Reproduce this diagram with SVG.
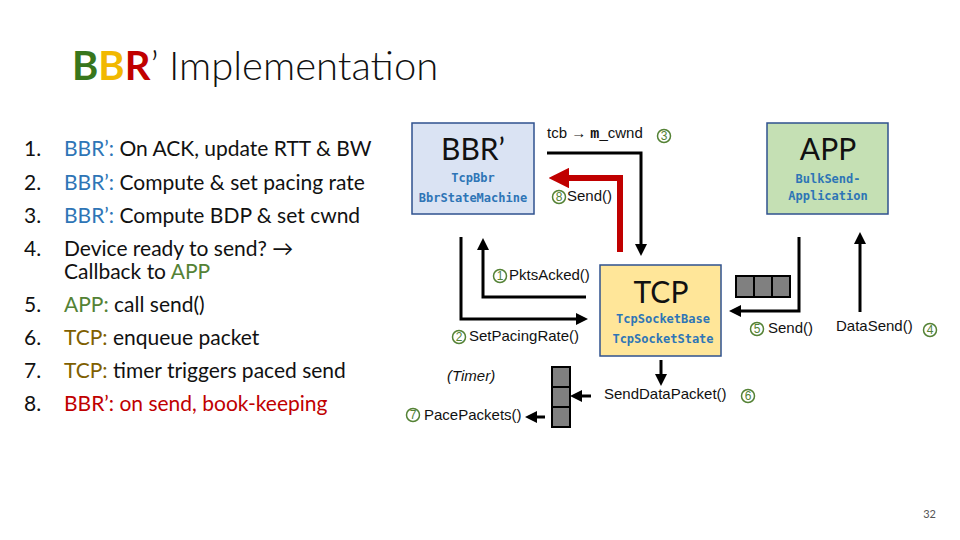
<svg xmlns="http://www.w3.org/2000/svg" width="960" height="540" viewBox="0 0 960 540">
<style>
.t{font-family:Lato,"Open Sans","Liberation Sans",sans-serif;}
.l{font-family:Lato,"Liberation Sans",sans-serif;font-size:21px;fill:#111}
.a{font-family:"Liberation Sans",Arial,sans-serif;font-size:15px;fill:#111}
.m{font-family:"DejaVu Sans Mono","Liberation Mono",monospace;font-size:12px;font-weight:bold;fill:#2e75b6}
.ln{fill:none;stroke:#000;stroke-width:3}
.n circle{fill:none;stroke:#548235;stroke-width:1.5}
.n text{font-family:"Liberation Sans",sans-serif;font-size:12px;fill:#548235;text-anchor:middle}
.q{fill:#808080;stroke:#000;stroke-width:2}
</style>
<defs>
<marker id="ah" markerWidth="4" markerHeight="4" refX="2" refY="2" orient="auto" markerUnits="strokeWidth"><path d="M0,0L4,2L0,4z" fill="#000"/></marker>
<marker id="ar" markerWidth="3.4" markerHeight="3.4" refX="1.5" refY="1.7" orient="auto" markerUnits="strokeWidth"><path d="M0,0L3.4,1.7L0,3.4z" fill="#c00000"/></marker>
</defs>
<rect width="960" height="540" fill="#fff"/>
<text class="t" x="72" y="80" font-size="40"><tspan fill="#38761d" font-weight="bold">B</tspan><tspan fill="#f1b800" font-weight="bold">B</tspan><tspan fill="#c00000" font-weight="bold">R</tspan><tspan fill="#111" font-weight="300">’ Implementation</tspan></text>
<g class="l">
<text x="24" y="156">1.</text><text x="64" y="156"><tspan fill="#2e75b6">BBR’:</tspan> On ACK, update RTT &amp; BW</text>
<text x="24" y="190">2.</text><text x="64" y="190"><tspan fill="#2e75b6">BBR’:</tspan> Compute &amp; set pacing rate</text>
<text x="24" y="223">3.</text><text x="64" y="223"><tspan fill="#2e75b6">BBR’:</tspan> Compute BDP &amp; set cwnd</text>
<text x="24" y="256">4.</text><text x="64" y="256">Device ready to send? →</text>
<text x="64" y="279">Callback to <tspan fill="#548235">APP</tspan></text>
<text x="24" y="312">5.</text><text x="64" y="312"><tspan fill="#548235">APP:</tspan> call send()</text>
<text x="24" y="345">6.</text><text x="64" y="345"><tspan fill="#7f6000">TCP:</tspan> enqueue packet</text>
<text x="24" y="378">7.</text><text x="64" y="378"><tspan fill="#7f6000">TCP:</tspan> timer triggers paced send</text>
<text x="24" y="411">8.</text><text x="64" y="411" fill="#c00000">BBR’: on send, book-keeping</text>
</g>
<g id="bbr"><rect x="412" y="123" width="122" height="91" fill="#dae3f3" stroke="#2f528f" stroke-width="1.5"/>
<text class="t" x="473" y="160" font-size="30" text-anchor="middle" fill="#111">BBR’</text>
<text class="m" x="473" y="182" text-anchor="middle">TcpBbr</text>
<text class="m" x="473" y="202" text-anchor="middle">BbrStateMachine</text></g>
<g id="app"><rect x="767" y="123" width="121" height="91" fill="#c5e0b4" stroke="#2f528f" stroke-width="1.5"/>
<text class="t" x="828" y="160" font-size="30" text-anchor="middle" fill="#111">APP</text>
<text class="m" x="828" y="183" text-anchor="middle">BulkSend-</text>
<text class="m" x="828" y="200" text-anchor="middle">Application</text></g>
<g id="tcp"><rect x="600" y="265" width="121" height="91" fill="#ffe699" stroke="#2f528f" stroke-width="1.5"/>
<text class="t" x="661" y="303" font-size="30" text-anchor="middle" fill="#111">TCP</text>
<text class="m" x="663" y="323" text-anchor="middle">TcpSocketBase</text>
<text class="m" x="663" y="343" text-anchor="middle">TcpSocketState</text></g>
<g id="queues">
<rect class="q" x="736" y="276" width="18" height="21"/><rect class="q" x="754" y="276" width="18" height="21"/><rect class="q" x="772" y="276" width="18" height="21"/>
<rect class="q" x="552" y="367" width="18" height="20"/><rect class="q" x="552" y="387" width="18" height="20"/><rect class="q" x="552" y="407" width="18" height="20"/>
</g>
<g id="connectors">
<path class="ln" d="M547,153H641V250" marker-end="url(#ah)"/>
<path d="M620,252V178H560" fill="none" stroke="#c00000" stroke-width="6" marker-end="url(#ar)"/>
<path class="ln" d="M586,297H483V244" marker-end="url(#ah)"/>
<path class="ln" d="M461,237V319H582" marker-end="url(#ah)"/>
<path class="ln" d="M799,237V311H735" marker-end="url(#ah)"/>
<path class="ln" d="M860,312V238" marker-end="url(#ah)"/>
<path class="ln" d="M661,360V380" marker-end="url(#ah)"/>
<path class="ln" d="M591,396H576" marker-end="url(#ah)"/>
<path class="ln" d="M545,417H531" marker-end="url(#ah)"/>
</g>
<g id="labels">
<text class="a" x="547" y="138">tcb → <tspan font-family="Liberation Mono,monospace" font-weight="bold">m</tspan>_cwnd</text>
<text class="a" x="567" y="201" fill="#c00000">Send()</text>
<text class="a" x="509" y="280">PktsAcked()</text>
<text class="a" x="469" y="341">SetPacingRate()</text>
<text class="a" x="768" y="333">Send()</text>
<text class="a" x="836" y="331">DataSend()</text>
<text class="a" x="604" y="399">SendDataPacket()</text>
<text class="a" x="447" y="381" font-style="italic">(Timer)</text>
<text class="a" x="424" y="420">PacePackets()</text>
<text x="936" y="518" font-family="Lato,sans-serif" font-size="11" fill="#555" text-anchor="end">32</text>
</g>
<g class="n">
<circle cx="664" cy="136" r="6.5"/><text x="664" y="140">3</text>
<circle cx="559" cy="197" r="6.5"/><text x="559" y="201">8</text>
<circle cx="500" cy="276" r="6.5"/><text x="500" y="280">1</text>
<circle cx="459" cy="337" r="6.5"/><text x="459" y="341">2</text>
<circle cx="757" cy="329" r="6.5"/><text x="757" y="333">5</text>
<circle cx="930" cy="330" r="6.5"/><text x="930" y="334">4</text>
<circle cx="748" cy="396" r="6.5"/><text x="748" y="400">6</text>
<circle cx="413" cy="415" r="6.5"/><text x="413" y="419">7</text>
</g>
</svg>
